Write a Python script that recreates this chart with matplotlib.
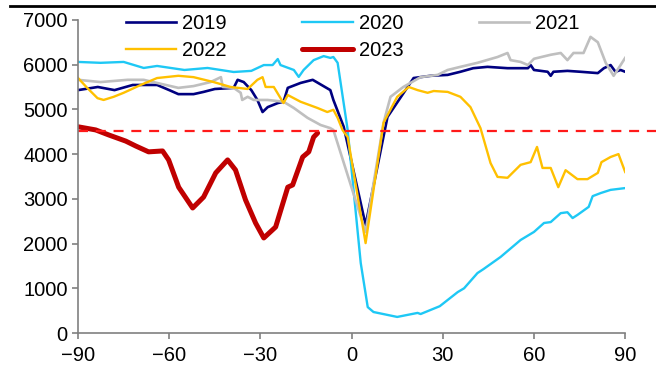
import matplotlib.pyplot as plt
from matplotlib.lines import Line2D

plt.rcParams['font.family'] = ['Liberation Sans', 'DejaVu Sans']

# ---- datos (dia relativo, valor) ----
x_2019 = [-90, -83.5, -78, -72, -64, -60, -57, -52, -48.7, -45, -38.8, -37.5, -35.5, -33, -31, -29.3,
          -27.6, -24.3, -22.4, -21, -16.8, -12.8, -7, -6, -2.6, 4.6, 11.8, 20.4, 26, 31.6, 35.8, 40,
          44.7, 51.3, 58, 58.9, 60, 64.5, 65.5, 66.4, 71, 75.3, 81, 83, 85.2, 86.8, 88.5, 90]
y_2019 = [5430, 5500, 5430, 5545, 5545, 5430, 5340, 5340, 5390, 5455, 5480, 5660, 5610, 5430, 5210, 4940,
          5050, 5140, 5170, 5480, 5590, 5660, 5430, 5210, 4610, 2415, 4830, 5700, 5750, 5770, 5840, 5920,
          5950, 5920, 5920, 5990, 5880, 5840, 5750, 5840, 5860, 5840, 5810, 5920, 5990, 5840, 5880, 5840]

x_2020 = [-90, -82.6, -75, -68.4, -64, -55, -47.4, -38.8, -33, -28.9, -26, -24.3, -23.4, -19, -17.4,
          -15.8, -12.5, -9.2, -7, -6, -4.6, -1.3, 3, 5.3, 7.2, 15, 21.7, 22.7, 29, 34.9, 37, 41.4, 43.4,
          49, 55.6, 60, 63.3, 65.5, 68.8, 71, 72.7, 74.3, 78, 79.3, 82, 85.2, 90]
y_2020 = [6060, 6040, 6060, 5925, 5970, 5880, 5925, 5835, 5860, 5990, 5990, 6125, 5990, 5880, 5725,
          5880, 6100, 6190, 6150, 6170, 6040, 4540, 1565, 580, 470, 360, 450, 425, 600, 915, 1000, 1340, 1430,
          1700, 2080, 2260, 2460, 2480, 2680, 2700, 2570, 2640, 2820, 3060, 3130, 3200, 3240]

x_2021 = [-90, -82.6, -73.7, -68.4, -64, -57, -52, -46.4, -43, -42.4, -38.8, -36.5, -36, -34.2, -32.2,
          -27.6, -22.4, -19, -14.5, -10.2, -7, -6, 4.6, 10.5, 12.8, 17, 22.7, 28.3, 31.6, 35.8, 41.4,
          48, 51.3, 52.3, 55.6, 58, 60, 65.5, 68.8, 71, 73, 76.3, 78.6, 81, 83.6, 86.2, 88.5, 90]
y_2021 = [5660, 5610, 5660, 5660, 5590, 5480, 5520, 5610, 5720, 5500, 5480, 5370, 5210, 5280, 5210,
          5210, 5170, 5030, 4810, 4650, 4580, 4540, 2260, 4700, 5280, 5500, 5720, 5770, 5880, 5950, 6040,
          6170, 6260, 6100, 6060, 5990, 6130, 6220, 6260, 6100, 6260, 6260, 6620, 6500, 6040, 5750, 5990, 6150]

x_2022 = [-90, -87, -83.6, -81.6, -78.3, -75, -69.4, -64, -57, -52, -45.4, -39.8, -34.2, -31, -29.3,
          -28.3, -25.6, -22.4, -21, -16.8, -11.2, -8, -6, -4.6, -3, -1.3, 4.6, 10.5, 15, 18.8, 21.7, 25,
          27, 31.6, 35.8, 39.1, 42.4, 45.7, 48, 51.3, 55.6, 58.9, 61, 62.8, 65.5, 68, 70.4, 74.3, 77.6,
          81, 82.2, 85.2, 87.8, 90]
y_2022 = [5700, 5480, 5250, 5210, 5280, 5370, 5545, 5700, 5750, 5720, 5610, 5500, 5455, 5660, 5720,
          5500, 5500, 5140, 5320, 5170, 5030, 4940, 4990, 4810, 4540, 4380, 2010, 4700, 5280, 5500, 5430, 5370,
          5410, 5390, 5280, 5050, 4580, 3800, 3490, 3470, 3760, 3820, 4160, 3690, 3690, 3260, 3640, 3440, 3440,
          3580, 3820, 3935, 4000, 3600]

x_2023 = [-90, -84.2, -80, -74.3, -71, -66.8, -62.2, -60.2, -56.9, -52.3, -48.7, -44.7, -40.8, -38.2,
          -34.9, -31.6, -28.9, -25, -21, -19.4, -16.1, -14.1, -12.5, -11.2]
y_2023 = [4610, 4540, 4430, 4290, 4180, 4050, 4070, 3870, 3260, 2795, 3040, 3580, 3870, 3645,
          2975, 2460, 2125, 2370, 3260, 3310, 3935, 4050, 4380, 4470]

umbral = 4520

fig = plt.figure(figsize=(6.56, 3.68), dpi=100)

# linea negra superior (de pagina)
fig.add_artist(Line2D([0.015, 1.0], [0.983, 0.983], color="black", lw=2.0,
                      transform=fig.transFigure, zorder=10))

ax = fig.add_axes([0.119, 0.095, 0.834, 0.851])

l19, = ax.plot(x_2019, y_2019, color="#000080", lw=1.9, label="2019")
l20, = ax.plot(x_2020, y_2020, color="#1EC8F5", lw=1.7, label="2020")
l21, = ax.plot(x_2021, y_2021, color="#BFBFBF", lw=1.9, label="2021")
l22, = ax.plot(x_2022, y_2022, color="#FFC000", lw=1.7, label="2022")
l23, = ax.plot(x_2023, y_2023, color="#C00000", lw=3.6, label="2023", solid_capstyle="round")
ax.plot([-90, 100], [umbral, umbral], color="#FF1A1A", lw=1.6, ls=(0, (4.5, 3.5)), clip_on=False)

ax.set_xlim(-90, 90)
ax.set_ylim(0, 7000)
ax.set_xticks(range(-90, 91, 30))
ax.set_yticks(range(0, 7001, 1000))

for s in ["top", "right"]:
    ax.spines[s].set_visible(False)
for s in ["left", "bottom"]:
    ax.spines[s].set_color("#808080")
    ax.spines[s].set_linewidth(1.2)
ax.tick_params(colors="#808080", labelcolor="black", labelsize=14.5, length=4, width=1.2)
ax.tick_params(axis="x", pad=5)

# orden por columnas para que quede 2019 2020 2021 / 2022 2023
handles = [l19, l22, l20, l23, l21]
ax.legend(handles, [h.get_label() for h in handles], loc="upper left", bbox_to_anchor=(0.069, 1.052),
          ncol=3, frameon=False, fontsize=14.5, handlelength=2.5, handletextpad=0.3,
          columnspacing=3.75, labelspacing=0.4, borderpad=0)

fig.savefig("out.png", dpi=100)
